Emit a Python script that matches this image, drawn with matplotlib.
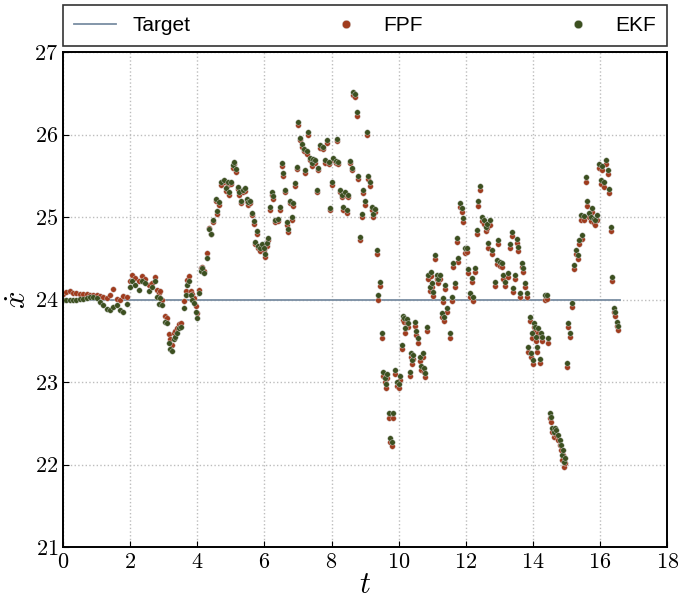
import numpy as np
import matplotlib
matplotlib.use('Agg')
import matplotlib.pyplot as plt

plt.rcParams['font.family'] = 'serif'
plt.rcParams['font.serif'] = ['cmr10']
plt.rcParams['mathtext.fontset'] = 'cm'
plt.rcParams['axes.formatter.use_mathtext'] = True

# target velocity
target_t = [0.0, 16.6]
target_v = [24.0, 24.0]

# t = 0 .. 2
t_a = [0.0, 0.1, 0.2, 0.3, 0.4, 0.5, 0.6, 0.7, 0.8, 0.9,
       1.0, 1.1, 1.2, 1.3, 1.4, 1.5, 1.6, 1.7, 1.8, 1.9]
ekf_a = [24.00, 24.00, 23.99, 24.00, 24.00, 24.01, 24.01, 24.02, 24.03, 24.03,
         24.02, 23.97, 23.94, 23.89, 23.87, 23.91, 23.93, 23.88, 23.85, 23.95]
fpf_a = [24.07, 24.09, 24.10, 24.08, 24.08, 24.07, 24.07, 24.07, 24.06, 24.06,
         24.05, 24.04, 24.03, 24.02, 24.05, 24.13, 24.01, 23.99, 24.04, 24.03]

# t = 2 .. 4.2
t_b = [2.0, 2.05, 2.15, 2.25, 2.35, 2.45, 2.55, 2.65, 2.75, 2.8,
       2.85, 2.9, 2.95, 3.05, 3.1, 3.15, 3.2, 3.25, 3.3, 3.35,
       3.4, 3.45, 3.5, 3.6, 3.65, 3.7, 3.75, 3.8, 3.85, 3.9,
       3.95, 4.0, 4.05, 4.1, 4.15, 4.2]
ekf_b = [24.15, 24.22, 24.18, 24.12, 24.22, 24.20, 24.10, 24.15, 24.22, 24.03,
         23.95, 24.02, 23.93, 23.73, 23.72, 23.47, 23.40, 23.38, 23.52, 23.55,
         23.60, 23.65, 23.67, 23.90, 24.05, 24.18, 24.23, 24.05, 24.00, 23.96,
         23.85, 23.78, 24.08, 24.35, 24.38, 24.32]
fpf_b = [24.22, 24.30, 24.26, 24.22, 24.28, 24.25, 24.18, 24.20, 24.27, 24.12,
         24.08, 24.10, 24.00, 23.80, 23.78, 23.58, 23.52, 23.45, 23.60, 23.62,
         23.66, 23.70, 23.72, 23.98, 24.10, 24.24, 24.28, 24.10, 24.07, 24.02,
         23.92, 23.84, 24.12, 24.38, 24.40, 24.35]

# t = 4.3 .. 9.3
t_c = [4.3, 4.35, 4.4, 4.47, 4.55, 4.6, 4.65, 4.7, 4.8, 4.85,
       4.9, 4.95, 5.0, 5.06, 5.1, 5.14, 5.2, 5.25, 5.3, 5.35,
       5.42, 5.48, 5.52, 5.57, 5.63, 5.68, 5.72, 5.78, 5.82, 5.88,
       5.93, 5.98, 6.02, 6.08, 6.12, 6.17, 6.22, 6.26, 6.32, 6.4,
       6.47, 6.53, 6.56, 6.6, 6.67, 6.7, 6.75, 6.82, 6.85, 6.91,
       6.97, 7.0, 7.06, 7.12, 7.18, 7.22, 7.27, 7.3, 7.36, 7.42,
       7.46, 7.5, 7.57, 7.6, 7.66, 7.75, 7.8, 7.87, 7.92, 7.96,
       8.02, 8.05, 8.12, 8.16, 8.2, 8.25, 8.3, 8.34, 8.4, 8.46,
       8.5, 8.55, 8.6, 8.64, 8.7, 8.76, 8.79, 8.85, 8.9, 8.94,
       9.0, 9.06, 9.1, 9.15, 9.2, 9.24, 9.3]
ekf_c = [24.50, 24.85, 24.80, 24.96, 25.22, 25.07, 25.18, 25.42, 25.45, 25.35,
         25.42, 25.30, 25.43, 25.63, 25.67, 25.58, 25.37, 25.30, 25.20, 25.33,
         25.35, 25.22, 25.18, 25.20, 25.05, 24.95, 24.70, 24.83, 24.65, 24.62,
         24.67, 24.63, 24.55, 24.68, 24.75, 25.12, 25.30, 25.25, 24.97, 24.98,
         25.12, 25.65, 25.53, 25.33, 24.94, 24.85, 25.20, 25.00, 25.17, 25.41,
         25.61, 26.15, 25.96, 25.88, 25.83, 25.57, 25.80, 26.03, 25.72, 25.65,
         25.70, 25.69, 25.33, 25.60, 25.87, 25.85, 25.69, 25.93, 25.67, 25.11,
         25.42, 25.72, 25.68, 25.95, 25.67, 25.33, 25.27, 25.12, 25.30, 25.08,
         25.27, 25.68, 25.60, 26.52, 26.49, 26.27, 25.50, 24.76, 25.04, 25.33,
         25.19, 26.03, 25.50, 25.42, 25.12, 25.04, 25.10]
fpf_c = [24.57, 24.87, 24.80, 24.94, 25.19, 25.04, 25.15, 25.39, 25.42, 25.32,
         25.39, 25.27, 25.40, 25.60, 25.64, 25.55, 25.34, 25.27, 25.17, 25.30,
         25.32, 25.19, 25.15, 25.17, 25.02, 24.92, 24.67, 24.80, 24.62, 24.59,
         24.64, 24.60, 24.52, 24.65, 24.72, 25.09, 25.27, 25.22, 24.94, 24.95,
         25.09, 25.62, 25.50, 25.30, 24.91, 24.82, 25.17, 24.97, 25.14, 25.38,
         25.58, 26.12, 25.93, 25.85, 25.80, 25.54, 25.77, 26.00, 25.69, 25.62,
         25.67, 25.66, 25.30, 25.57, 25.84, 25.82, 25.66, 25.90, 25.64, 25.08,
         25.39, 25.69, 25.65, 25.92, 25.64, 25.30, 25.24, 25.09, 25.27, 25.05,
         25.24, 25.65, 25.57, 26.48, 26.45, 26.23, 25.46, 24.72, 25.00, 25.29,
         25.15, 25.99, 25.46, 25.38, 25.08, 25.00, 25.06]

# t = 9.36 .. 16.55
t_d = [9.36, 9.39, 9.45, 9.5, 9.54, 9.58, 9.62, 9.66, 9.7, 9.75,
       9.8, 9.83, 9.9, 9.95, 10.0, 10.04, 10.1, 10.13, 10.17, 10.19,
       10.24, 10.28, 10.34, 10.36, 10.4, 10.43, 10.49, 10.53, 10.58, 10.64,
       10.68, 10.72, 10.76, 10.79, 10.85, 10.88, 10.92, 10.96, 11.0, 11.03,
       11.08, 11.14, 11.18, 11.23, 11.29, 11.32, 11.36, 11.38, 11.44, 11.53,
       11.59, 11.62, 11.68, 11.74, 11.77, 11.83, 11.89, 11.92, 11.98, 12.04,
       12.07, 12.13, 12.19, 12.22, 12.28, 12.34, 12.37, 12.43, 12.49, 12.55,
       12.6, 12.63, 12.66, 12.72, 12.78, 12.87, 12.93, 12.96, 13.02, 13.08,
       13.11, 13.17, 13.26, 13.32, 13.38, 13.41, 13.47, 13.53, 13.56, 13.62,
       13.68, 13.71, 13.77, 13.83, 13.86, 13.92, 13.95, 13.98, 14.0, 14.03,
       14.06, 14.09, 14.12, 14.16, 14.2, 14.24, 14.27, 14.36, 14.42, 14.45,
       14.5, 14.55, 14.58, 14.62, 14.65, 14.7, 14.74, 14.8, 14.83, 14.87,
       14.9, 14.93, 14.96, 15.02, 15.05, 15.1, 15.17, 15.23, 15.29, 15.35,
       15.38, 15.44, 15.47, 15.53, 15.59, 15.62, 15.68, 15.72, 15.77, 15.82,
       15.85, 15.91, 15.97, 16.03, 16.06, 16.12, 16.18, 16.24, 16.27, 16.33,
       16.36, 16.42, 16.45, 16.51, 16.55]
ekf_d = [24.60, 24.05, 24.21, 23.59, 23.12, 23.05, 22.98, 23.10, 22.62, 22.32,
         22.28, 22.62, 23.15, 23.00, 22.98, 23.08, 23.45, 23.80, 23.78, 23.65,
         23.77, 23.72, 23.12, 23.35, 23.27, 23.33, 23.73, 23.62, 23.53, 23.30,
         23.20, 23.35, 23.17, 23.11, 23.67, 24.30, 24.15, 24.33, 24.20, 24.09,
         24.54, 24.30, 24.25, 24.30, 23.84, 24.02, 23.79, 24.18, 23.90, 23.59,
         24.03, 24.44, 24.20, 24.75, 24.50, 25.17, 25.11, 24.99, 24.62, 24.63,
         24.37, 24.08, 24.26, 24.03, 24.38, 24.84, 25.19, 25.38, 25.00, 24.97,
         24.88, 24.92, 24.68, 24.96, 24.60, 24.21, 24.48, 24.72, 24.46, 24.44,
         24.30, 24.21, 24.32, 24.67, 24.82, 24.14, 24.30, 24.73, 24.64, 24.08,
         24.44, 24.38, 24.20, 24.08, 23.42, 23.79, 23.35, 23.59, 23.27, 23.72,
         23.67, 23.55, 23.42, 23.65, 23.28, 23.60, 23.55, 24.05, 24.06, 23.53,
         22.62, 22.58, 22.45, 22.39, 22.44, 22.42, 22.36, 22.30, 22.24, 22.12,
         22.18, 22.03, 22.08, 23.23, 23.72, 23.60, 23.96, 24.42, 24.60, 24.54,
         24.72, 25.02, 24.78, 25.01, 25.48, 25.19, 25.05, 25.00, 25.11, 24.98,
         24.96, 25.02, 25.64, 25.45, 25.62, 25.42, 25.69, 25.57, 25.34, 24.88,
         24.27, 23.90, 23.85, 23.73, 23.68]
fpf_d = [24.55, 24.00, 24.16, 23.54, 23.07, 23.00, 22.93, 23.05, 22.57, 22.27,
         22.23, 22.57, 23.10, 22.95, 22.93, 23.03, 23.40, 23.75, 23.73, 23.60,
         23.72, 23.67, 23.07, 23.30, 23.22, 23.28, 23.68, 23.57, 23.48, 23.25,
         23.15, 23.30, 23.12, 23.06, 23.62, 24.25, 24.10, 24.28, 24.15, 24.04,
         24.49, 24.25, 24.20, 24.25, 23.79, 23.97, 23.74, 24.13, 23.85, 23.54,
         23.98, 24.39, 24.15, 24.70, 24.45, 25.12, 25.06, 24.94, 24.57, 24.58,
         24.32, 24.03, 24.21, 23.98, 24.33, 24.79, 25.14, 25.33, 24.95, 24.92,
         24.83, 24.87, 24.63, 24.91, 24.55, 24.16, 24.43, 24.67, 24.41, 24.39,
         24.25, 24.16, 24.27, 24.62, 24.77, 24.09, 24.25, 24.68, 24.59, 24.03,
         24.39, 24.33, 24.15, 24.03, 23.37, 23.74, 23.30, 23.54, 23.22, 23.67,
         23.62, 23.50, 23.37, 23.60, 23.23, 23.55, 23.50, 24.00, 24.01, 23.48,
         22.56, 22.52, 22.39, 22.33, 22.38, 22.36, 22.30, 22.24, 22.18, 22.06,
         22.12, 21.97, 22.02, 23.18, 23.67, 23.55, 23.91, 24.37, 24.55, 24.49,
         24.67, 24.97, 24.73, 24.96, 25.43, 25.14, 25.00, 24.95, 25.06, 24.93,
         24.91, 24.97, 25.59, 25.40, 25.57, 25.37, 25.64, 25.52, 25.29, 24.83,
         24.22, 23.85, 23.80, 23.68, 23.63]

t = np.array(t_a + t_b + t_c + t_d)
ekf = np.array(ekf_a + ekf_b + ekf_c + ekf_d)
fpf = np.array(fpf_a + fpf_b + fpf_c + fpf_d)

fig = plt.figure(figsize=(6.78, 5.98), dpi=100)
ax = fig.add_axes([0.093, 0.085, 0.891, 0.828])

ax.plot(target_t, target_v, '-', color='#7a8ea3', lw=1.3, label='Target')
ax.plot(t, fpf, 'o', color='#a03c1e', ms=4.0, mec='#d0d0d0', mew=0.3, label='FPF')
ax.plot(t, ekf, 'o', color='#3c5020', ms=4.0, mec='#d0d0d0', mew=0.3, label='EKF')

ax.set_xlim(0, 18)
ax.set_ylim(21, 27)
ax.set_xticks(np.arange(0, 19, 2))
ax.set_yticks(np.arange(21, 28, 1))
ax.grid(True, ls=':', color='#bdbdbd', lw=1)
ax.tick_params(direction='in', labelsize=16, length=4)
for s in ax.spines.values():
    s.set_linewidth(1.4)

ax.set_xlabel(r'$t$', fontsize=22, labelpad=0)
ax.set_ylabel(r'$\dot{x}$', fontsize=22, labelpad=2)

leg = ax.legend(bbox_to_anchor=(0., 1.012, 1., .08), loc='lower left', ncol=3,
                mode='expand', borderaxespad=0., numpoints=1, markerscale=1.5,
                borderpad=0.52, fancybox=False,
                prop={'family': 'Liberation Sans', 'size': 15})
leg.get_frame().set_edgecolor('black')
leg.get_frame().set_linewidth(1.2)

fig.savefig('out.png', dpi=100)
